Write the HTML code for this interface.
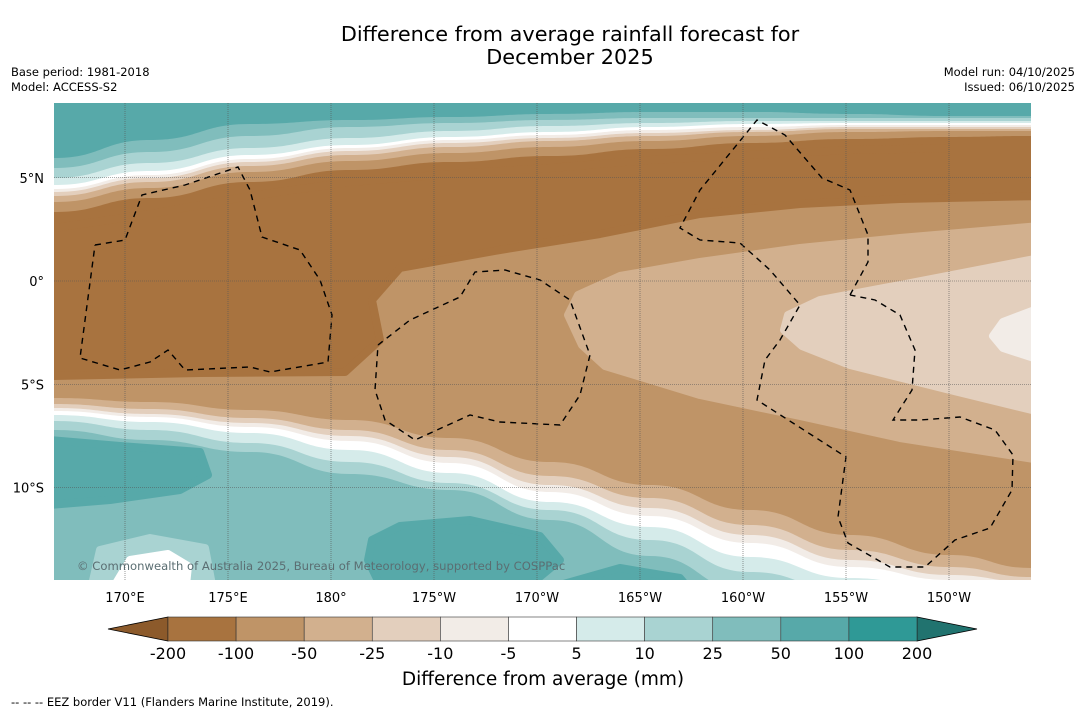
<!DOCTYPE html>
<html><head><meta charset="utf-8"><style>
body{margin:0;background:#fff;width:1085px;height:713px;overflow:hidden;font-family:"DejaVu Sans","Liberation Sans",sans-serif}
svg{display:block;font-family:"DejaVu Sans","Liberation Sans",sans-serif}
</style></head><body>
<svg id="s" width="1085" height="713">
<text x="570" y="41" font-size="20.8" text-anchor="middle">Difference from average rainfall forecast for</text>
<text x="570" y="64" font-size="20.8" text-anchor="middle">December 2025</text>
<text x="11" y="76" font-size="11.5">Base period: 1981-2018</text>
<text x="11" y="91" font-size="11.5">Model: ACCESS-S2</text>
<text x="1075" y="76" font-size="11.5" text-anchor="end">Model run: 04/10/2025</text>
<text x="1075" y="91" font-size="11.5" text-anchor="end">Issued: 06/10/2025</text>
<defs><clipPath id="mc"><rect x="54" y="103" width="977" height="477"/></clipPath></defs>
<g id="map" clip-path="url(#mc)"></g>
<g id="grid"></g>
<g id="axes"></g>
<g id="cbar"></g>
<text x="543" y="685" font-size="18.5" text-anchor="middle">Difference from average (mm)</text>
<text x="11" y="706" font-size="11.5">--  --  -- EEZ border V11 (Flanders Marine Institute, 2019).</text>
</svg>
<script>
const NS='http://www.w3.org/2000/svg';
const levels=['-200','-100','-50','-25','-10','-5','5','10','25','50','100','200'];
const colors=['#a8733f','#bf9467','#d2b08e','#e3cfbd','#f2ece7','#ffffff','#d5ebea','#a9d3d2','#80bdbc','#57a9a9','#2f9996'];
const extLow='#8c5a2b', extHigh='#21736f';
const lonTicks=[170,175,180,-175,-170,-165,-160,-155,-150];
const lonLabels=['170°E','175°E','180°','175°W','170°W','165°W','160°W','155°W','150°W'];
const latTicks=[5,0,-5,-10];
const latLabels=['5°N','0°','5°S','10°S'];
function lonX(l){let e=l<0?l+360:l;return 125+(e-170)*20.6;}
function latY(l){return 281-l*20.65;}
function mk(tag,at,par){const e=document.createElementNS(NS,tag);for(const k in at)e.setAttribute(k,at[k]);par.appendChild(e);return e;}
const map=document.getElementById('map');
const XS=[54,150,250,350,450,550,650,750,850,950,1031];
function smooth(pts){let d='M'+pts[0][0]+','+pts[0][1];for(let i=1;i<pts.length;i++){const p0=pts[i-1],p1=pts[i];const mx=(p0[0]+p1[0])/2;d+=' C'+mx+','+p0[1]+' '+mx+','+p1[1]+' '+p1[0]+','+p1[1];}return d;}
function above(ys,col,name){const pts=XS.map((x,i)=>[x,ys[i]]);const p=mk('path',{d:smooth(pts)+' L1031,90 L54,90 Z',fill:col},map);
}
function below(ys,col,name){const pts=XS.map((x,i)=>[x,ys[i]]);const p=mk('path',{d:smooth(pts)+' L1031,600 L54,600 Z',fill:col},map);
}
function poly(pts,col,name){const p=mk('path',{d:'M'+pts.map(p=>p.join(',')).join(' L')+' Z',fill:col,'stroke':col,'stroke-linejoin':'round','stroke-width':8},map);
}
mk('rect',{x:54,y:103,width:977,height:477,fill:colors[1]},map);
above([228,214,196,182,174,168,160,155,150,148,148],colors[0],'dark-brown-north');
above([212,198,182,170,162,156,149,143,139,137,136],colors[1],'band-north-m100');
above([202,188,172,161,153,147,141,136,132,131,131],colors[2],'band-north-m50');
above([196,182,166,155,147,141,136,132,129,129,129],colors[3],'band-north-m25');
above([192,178,162,151,143,138,133,130,127,127,127],colors[4],'band-north-m10');
above([189,175,159,148,140,135,130,127,125,125,125],colors[5],'band-north-zero');
above([185,171,155,145,137,132,127,124,123,123,123],colors[6],'band-north-p5');
above([178,163,148,138,131,126,123,121,121,121,121],colors[7],'band-north-p10');
above([168,152,136,127,123,120,118,118,118,118,118],colors[8],'band-north-p25');
above([158,140,124,120,117,114,112,112,114,116,116],colors[9],'band-north-p50');
(function(){const top=[[54,228],[150,214],[250,196],[350,182],[450,174],[550,168],[650,160],[750,155],[850,150],[950,148],[1040,148]];
const bot=[[1040,196],[900,199],[800,204],[700,214],[600,234],[500,250],[400,268],[372,300],[380,340],[345,372],[200,373],[54,376]];
poly(top.concat(bot),colors[0],'dark-brown-equatorial');})();
poly([[1040,226],[900,238],[800,248],[700,262],[620,276],[578,295],[568,315],[582,345],[605,366],[700,395],[800,416],[900,438],[1040,460]],colors[2],'light-brown-east');
poly([[1040,258],[900,285],[820,300],[788,315],[784,330],[802,346],[850,365],[950,390],[1040,412]],colors[3],'lighter-brown-east');
poly([[1040,308],[1003,322],[993,336],[1003,348],[1040,360]],colors[4],'palest-east');
below([398,402,410,420,438,462,485,510,535,555,568],colors[2],'band-south-m50');
below([404,409,418,430,450,476,498,525,550,567,577],colors[3],'band-south-m25');
below([408,414,423,436,457,485,508,535,560,575,582],colors[4],'band-south-m10');
below([411,417,427,441,463,492,516,543,567,580,586],colors[5],'band-south-zero');
below([415,422,433,450,473,502,527,557,578,590,592],colors[6],'band-south-p5');
below([421,430,443,462,483,510,540,572,592,600,600],colors[7],'band-south-p10');
below([430,440,452,474,490,520,556,592,600,600,600],colors[8],'band-south-p25');
poly([[50,440],[120,446],[200,452],[208,475],[180,490],[110,500],[50,505]],colors[9],'teal-blob-west');
poly([[372,540],[400,526],[470,520],[540,536],[560,560],[530,585],[380,585],[368,560]],colors[9],'teal-blob-south');
poly([[92,585],[100,550],[150,538],[205,548],[212,585]],colors[7],'light-teal-blob-sw');
poly([[115,585],[130,560],[168,554],[188,566],[186,585]],colors[5],'white-blob-sw');
poly([[560,585],[620,568],[680,578],[690,590]],colors[9],'teal-blob-south2');
function eez(pts,name){const p=mk('path',{d:'M'+pts.map(p=>p.join(',')).join(' L'),fill:'none',stroke:'#000','stroke-width':1.4,'stroke-dasharray':'6,5'},map);
}
eez([[95,245],[125,240],[142,195],[185,185],[238,167],[250,190],[262,237],[300,250],[320,280],[332,315],[328,362],[270,372],[250,367],[185,370],[168,350],[150,362],[120,370],[80,358],[95,245]],'eez-gilbert');
eez([[378,345],[410,320],[460,297],[475,272],[505,270],[540,280],[570,300],[590,355],[580,395],[560,425],[500,422],[470,415],[415,440],[385,420],[375,390],[378,345]],'eez-phoenix');
eez([[850,295],[868,262],[868,235],[850,190],[822,178],[785,135],[757,120],[700,190],[680,228],[700,240],[740,243],[770,270],[800,305],[780,340],[765,360],[757,400],[846,457],[838,517],[848,543],[890,567],[925,567],[955,540],[990,528],[1012,490],[1013,455],[995,430],[960,417],[920,420],[893,420],[912,390],[915,350],[900,315],[875,300],[850,295]],'eez-line-islands');
const cp=mk('text',{x:77,y:570,'font-size':11.6,fill:'#5b6e72'},map);cp.textContent='© Commonwealth of Australia 2025, Bureau of Meteorology, supported by COSPPac';

const grid=document.getElementById('grid'),axes=document.getElementById('axes');
lonTicks.forEach((l,i)=>{const x=lonX(l);
const g=mk('line',{x1:x,x2:x,y1:103,y2:580,stroke:'#555','stroke-width':0.6,'stroke-dasharray':'1,1'},grid);

const t=mk('text',{x:x,y:602,'font-size':13,'text-anchor':'middle'},axes);t.textContent=lonLabels[i];
});
latTicks.forEach((l,i)=>{const y=latY(l);
const g=mk('line',{x1:54,x2:1031,y1:y,y2:y,stroke:'#555','stroke-width':0.6,'stroke-dasharray':'1,1'},grid);

const t=mk('text',{x:44,y:y+5,'font-size':13,'text-anchor':'end'},axes);t.textContent=latLabels[i];
});
const cb=document.getElementById('cbar');const cx0=168,cx1=917,cy=617,ch=24,sw=(cx1-cx0)/colors.length;
const tl=mk('path',{d:`M${cx0},${cy} L108,${cy+ch/2} L${cx0},${cy+ch} Z`,fill:extLow,stroke:'#000','stroke-width':0.8},cb);

const tr=mk('path',{d:`M${cx1},${cy} L977,${cy+ch/2} L${cx1},${cy+ch} Z`,fill:extHigh,stroke:'#000','stroke-width':0.8},cb);

colors.forEach((c,i)=>{const r=mk('rect',{x:cx0+i*sw,y:cy,width:sw,height:ch,fill:c,stroke:'#333','stroke-width':0.6},cb);
});
levels.forEach((lv,i)=>{const t=mk('text',{x:cx0+i*sw,y:cy+ch+18,'font-size':16,'text-anchor':'middle'},cb);t.textContent=lv;
});
</script>
</body></html>
